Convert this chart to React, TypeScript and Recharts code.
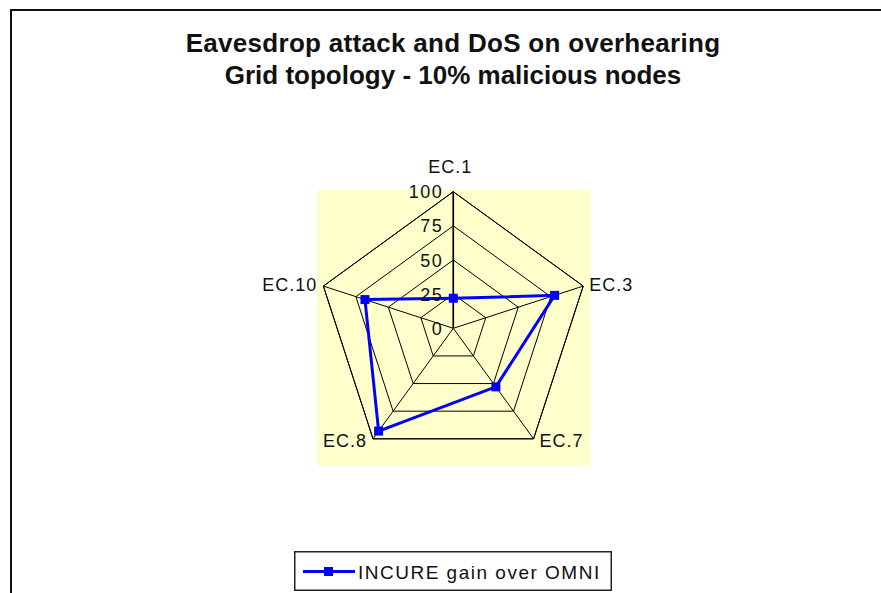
import React from 'react';
import {
  RadarChart,
  Radar,
  PolarGrid,
  PolarAngleAxis,
  PolarRadiusAxis,
  Legend,
} from 'recharts';

// Chart data
const categories = ['EC.1', 'EC.3', 'EC.7', 'EC.8', 'EC.10'];
const incureGain = [22, 78, 53, 93, 68];
const radiusTicks = [0, 25, 50, 75, 100];
const seriesName = 'INCURE gain over OMNI';
const titleLines = [
  'Eavesdrop attack and DoS on overhearing',
  'Grid topology - 10% malicious nodes',
];

const data = categories.map((category, i) => ({ category, value: incureGain[i] }));

// Layout
const W = 881;
const H = 593;
const CX = 453.3;
const CY = 328.3;
const R = 136.6;
const FONT = '"Liberation Sans", Arial, Helvetica, sans-serif';
const TEXT = '#111';
const BLUE = '#0000FF';

function AngleTick(props: any) {
  const { payload } = props;
  const a = (payload.coordinate * Math.PI) / 180;
  const c = Math.cos(a);
  const s = Math.sin(a);
  const px = CX + R * c;
  const py = CY - R * s;
  let x = px;
  let y = py;
  let anchor: 'start' | 'middle' | 'end' = 'middle';
  if (Math.abs(c) < 0.1) {
    x = px - 3;
    y = py - 19;
  } else {
    anchor = c > 0 ? 'start' : 'end';
    x = c > 0 ? px + 6 : px - 6;
    y = s > 0 ? py + 5 : py + 8;
  }
  return (
    <text
      x={x}
      y={y}
      textAnchor={anchor}
      fontFamily={FONT}
      fontSize={18}
      letterSpacing={1}
      fill={TEXT}
    >
      {payload.value}
    </text>
  );
}

function RadiusTick(props: any) {
  const { x, y, payload } = props;
  return (
    <text
      x={x - 10}
      y={y + 6.5}
      textAnchor="end"
      fontFamily={FONT}
      fontSize={18}
      letterSpacing={1.5}
      fill={TEXT}
    >
      {payload.value}
    </text>
  );
}

function SquareDot(props: any) {
  const { cx, cy } = props;
  if (cx == null || cy == null) return null;
  return <rect x={cx - 4.5} y={cy - 4.5} width={9} height={9} fill={BLUE} />;
}

function LegendBox() {
  return (
    <svg width={318} height={40} style={{ display: 'block' }}>
      <rect x={0.75} y={0.75} width={316.5} height={38.5} fill="#fff" stroke="#222" strokeWidth={1.5} />
      <line x1={9} y1={20.5} x2={61} y2={20.5} stroke={BLUE} strokeWidth={3} />
      <rect x={30} y={16} width={9} height={9} fill={BLUE} />
      <text x={64} y={28} fontFamily={FONT} fontSize={19} letterSpacing={1.5} fill={TEXT}>
        {seriesName}
      </text>
    </svg>
  );
}

export default function App() {
  return (
    <div
      style={{
        position: 'absolute',
        left: 0,
        top: 0,
        width: W,
        height: H,
        overflow: 'hidden',
        background: '#fff',
      }}
    >
      {/* chart frame */}
      <div
        style={{
          position: 'absolute',
          left: 10,
          top: 9,
          width: W,
          height: H,
          borderTop: '2px solid #111',
          borderLeft: '2px solid #111',
        }}
      />
      {/* plot area */}
      <div
        style={{
          position: 'absolute',
          left: 317,
          top: 190,
          width: 273,
          height: 276,
          background: '#FFFFCC',
        }}
      />
      {titleLines.map((line, i) => (
        <div
          key={line}
          style={{
            position: 'absolute',
            left: 0,
            top: 27 + i * 31.5,
            width: 906,
            textAlign: 'center',
            fontFamily: FONT,
            fontWeight: 'bold',
            fontSize: 26,
            lineHeight: '32px',
            letterSpacing: i === 0 ? 0.3 : 0,
            color: TEXT,
            whiteSpace: 'nowrap',
          }}
        >
          {line}
        </div>
      ))}
      <div style={{ position: 'absolute', left: 0, top: 0 }}>
        <RadarChart
          width={W}
          height={H}
          cx={CX}
          cy={CY}
          outerRadius={R}
          data={data}
          margin={{ top: 0, right: 0, bottom: 0, left: 0 }}
        >
          <PolarGrid gridType="polygon" stroke="#000" strokeWidth={1} radialLines />
          <PolarAngleAxis
            dataKey="category"
            tick={<AngleTick />}
            tickLine={false}
            axisLine={{ stroke: '#000', strokeWidth: 1 }}
          />
          <PolarRadiusAxis
            angle={90}
            domain={[0, 100]}
            ticks={radiusTicks as any}
            tickCount={radiusTicks.length}
            axisLine={{ stroke: '#000', strokeWidth: 1.6 }}
            tickLine={false}
            tick={<RadiusTick />}
          />
          <Radar
            name={seriesName}
            dataKey="value"
            stroke={BLUE}
            strokeWidth={3}
            fill="none"
            fillOpacity={0}
            dot={<SquareDot />}
            isAnimationActive={false}
          />
          <Legend
            verticalAlign="top"
            align="left"
            content={() => <LegendBox />}
            wrapperStyle={{ left: 294, top: 551, width: 318, height: 40 }}
          />
        </RadarChart>
      </div>
    </div>
  );
}
